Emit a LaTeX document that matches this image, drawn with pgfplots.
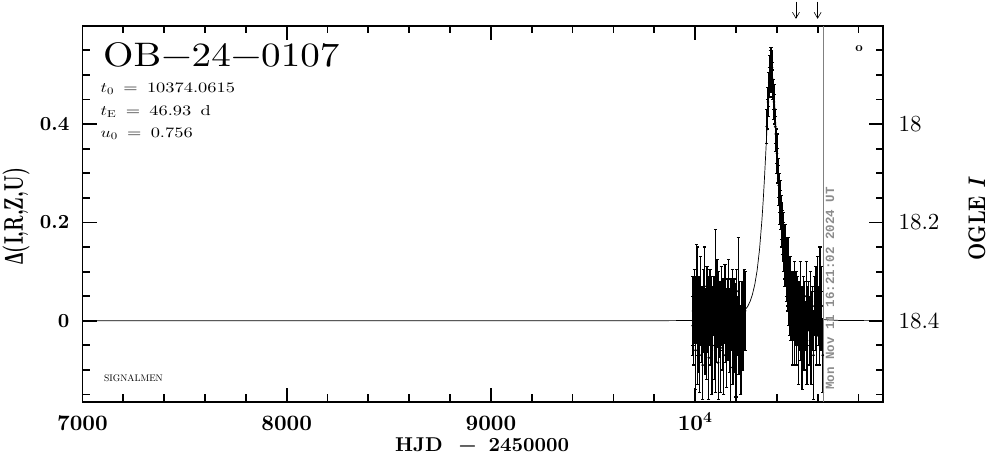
\documentclass[border=0pt]{standalone}
\usepackage{fontspec}
\usepackage{graphicx}
\usepackage{pgfplots}
\usepackage{pgfplotstable}
\pgfplotsset{compat=1.18}
\usetikzlibrary{arrows.meta}
\setmainfont{lmroman10-regular}[Extension=.otf, BoldFont=lmroman10-bold,
  ItalicFont=lmroman10-italic, BoldItalicFont=lmroman10-bolditalic]
\newfontfamily\datefont{Liberation Mono}
\newfontfamily\grkfont{Liberation Serif}

% OGLE season 2023 (baseline)
\pgfplotstableread{
t d e
9988 -0.010 0.060
9990 0.020 0.070
9993 -0.035 0.055
9996 0.045 0.060
9999 0.005 0.050
10002 -0.060 0.080
10005 0.030 0.060
10008 0.055 0.100
10010 -0.020 0.050
10013 0.010 0.140
10016 -0.045 0.060
10019 0.035 0.055
10022 -0.070 0.075
10025 0.000 0.050
10028 0.060 0.070
10031 -0.025 0.060
10034 0.020 0.050
10037 -0.090 0.070
10040 0.040 0.065
10043 -0.010 0.055
10046 0.070 0.080
10049 -0.050 0.060
10052 0.015 0.050
10055 -0.030 0.090
10058 0.050 0.060
10061 -0.015 0.050
10064 0.025 0.065
10067 -0.075 0.085
10070 0.005 0.055
10073 0.045 0.060
10076 -0.040 0.050
10079 0.020 0.070
10082 -0.060 0.090
10085 0.010 0.060
10092 0.030 0.060
10095 -0.050 0.070
10098 0.015 0.055
10101 0.020 0.165
10104 -0.025 0.060
10107 0.060 0.065
10110 -0.005 0.050
10113 -0.085 0.075
10116 0.040 0.060
10119 -0.020 0.055
10122 0.010 0.070
10125 -0.055 0.090
10128 0.050 0.060
10131 0.000 0.050
10134 -0.035 0.065
10137 0.030 0.055
10140 -0.070 0.080
10143 0.015 0.060
10146 0.045 0.070
10149 -0.030 0.055
10152 0.005 0.060
10155 -0.060 0.075
10158 0.035 0.050
10161 -0.015 0.065
10164 0.055 0.070
10167 -0.045 0.060
10170 0.010 0.055
10173 -0.095 0.070
10176 0.025 0.060
10179 -0.010 0.050
10182 0.040 0.065
10185 -0.050 0.080
10188 0.005 0.060
10191 0.030 0.055
10194 -0.035 0.070
10197 0.015 0.060
10200 -0.070 0.085
10204 0.040 0.065
10208 -0.010 0.060
10211 0.060 0.110
10215 -0.040 0.070
10219 0.020 0.060
10224 -0.060 0.090
10229 0.010 0.070
10234 -0.020 0.080
10240 0.030 0.075
10245 0.020 0.080
}\seasonA

% OGLE season 2024 (event + tail)
\pgfplotstableread{
t d e
10351 0.395 0.035
10354 0.420 0.030
10357 0.445 0.030
10360 0.470 0.035
10363 0.485 0.030
10366 0.505 0.035
10368 0.520 0.030
10370 0.500 0.035
10372 0.525 0.030
10374 0.495 0.030
10376 0.515 0.035
10378 0.480 0.030
10380 0.490 0.035
10383 0.460 0.030
10386 0.445 0.035
10389 0.430 0.030
10392 0.395 0.035
10395 0.380 0.035
10398 0.355 0.035
10401 0.340 0.040
10404 0.315 0.035
10407 0.290 0.040
10410 0.275 0.040
10413 0.260 0.040
10416 0.240 0.045
10419 0.225 0.040
10422 0.210 0.045
10425 0.195 0.045
10428 0.180 0.045
10431 0.170 0.050
10434 0.150 0.050
10437 0.140 0.055
10440 0.120 0.050
10443 0.135 0.060
10446 0.090 0.050
10449 0.110 0.060
10452 0.070 0.050
10455 0.100 0.070
10458 0.050 0.060
10461 0.080 0.050
10464 0.030 0.060
10467 0.060 0.070
10470 0.010 0.050
10473 0.040 0.060
10476 -0.020 0.070
10479 0.050 0.050
10482 0.020 0.060
10485 -0.010 0.080
10488 0.060 0.060
10491 0.000 0.050
10494 0.030 0.070
10497 -0.030 0.060
10500 0.040 0.050
10503 0.010 0.060
10506 -0.050 0.080
10509 0.030 0.050
10512 0.000 0.060
10515 0.050 0.070
10518 -0.020 0.060
10521 0.020 0.050
10524 -0.060 0.080
10527 0.010 0.060
10530 0.040 0.050
10533 -0.030 0.070
10536 0.020 0.060
10540 -0.010 0.050
10544 0.050 0.070
10548 -0.040 0.090
10552 0.010 0.060
10556 0.030 0.050
10560 -0.020 0.070
10564 0.040 0.060
10568 -0.050 0.080
10572 0.000 0.060
10576 0.020 0.050
10580 -0.070 0.090
10584 0.030 0.060
10588 -0.010 0.050
10592 0.040 0.070
10596 -0.030 0.060
10600 0.050 0.080
10604 0.010 0.060
10608 -0.020 0.070
10612 0.060 0.090
10616 0.000 0.060
10620 0.030 0.080
10625 -0.070 0.075
}\seasonB

\begin{document}
\begin{tikzpicture}
\path[use as bounding box] (0,0) rectangle (986pt,459pt);

\begin{axis}[
  at={(82.5pt,57.3pt)}, anchor=south west,
  scale only axis, width=800.8pt, height=376pt,
  xmin=7000, xmax=10921.6, ymin=-0.1645, ymax=0.6,
  xtick={7000,8000,9000,10000},
  xticklabels={7000,8000,9000,{10\textsuperscript{4}}},
  minor xtick={7200,7400,7600,7800,8200,8400,8600,8800,9200,9400,9600,9800,10200,10400,10600,10800},
  ytick={0,0.2,0.4}, yticklabels={0,0.2,0.4},
  minor ytick={-0.15,-0.1,-0.05,0.05,0.1,0.15,0.25,0.3,0.35,0.45,0.5,0.55},
  ytick pos=left,
  major tick length=14pt, minor tick length=7.5pt,
  axis line style={line width=1.8pt},
  tick style={black, line width=1.8pt},
  xticklabel style={font=\bfseries\fontsize{22}{22}\selectfont, anchor=base, yshift=-28.3pt},
  yticklabel style={font=\bfseries\fontsize{20}{20}\selectfont, anchor=east, inner sep=0pt, xshift=-13pt},
  clip=false,
]
% model light curve (t0=10374.0615, tE=46.93, u0=0.756)
\addplot[black, line width=0.7pt, no marks] coordinates {
(7000,0) (9800,0.0001) (10045.6,0.0008) (10139.4,0.0029) (10186.3,0.0063)
(10209.8,0.0100) (10233.3,0.0165) (10256.7,0.0287) (10268.5,0.0386)
(10280.2,0.0528) (10291.9,0.0731) (10303.7,0.1025) (10315.4,0.1448)
(10327.1,0.2043) (10333.0,0.2416) (10338.9,0.2839) (10344.7,0.3304)
(10350.6,0.3789) (10356.5,0.4260) (10362.3,0.4666) (10368.2,0.4942)
(10374.1,0.5040) (10379.9,0.4942) (10385.8,0.4666) (10391.7,0.4260)
(10397.5,0.3789) (10403.4,0.3304) (10409.3,0.2839) (10415.1,0.2416)
(10421.0,0.2043) (10432.7,0.1448) (10444.5,0.1025) (10456.2,0.0731)
(10467.9,0.0528) (10479.7,0.0386) (10491.4,0.0287) (10514.9,0.0165)
(10538.3,0.0100) (10561.8,0.0063) (10608.7,0.0029) (10702.6,0.0008)
(10921.6,0.0001)};
\addplot[black, only marks, mark=*, mark size=1.1pt,
  error bars/.cd, y dir=both, y explicit,
  error bar style={line width=1.3pt, black},
  error mark options={rotate=90, black, line width=1.2pt, mark size=1.6pt}]
  table[x=t, y=d, y error=e] {\seasonA};
\addplot[black, only marks, mark=*, mark size=1.1pt,
  error bars/.cd, y dir=both, y explicit,
  error bar style={line width=1.3pt, black},
  error mark options={rotate=90, black, line width=1.2pt, mark size=1.6pt}]
  table[x=t, y=d, y error=e] {\seasonB};
% time of last update and marked epochs
\draw[black!50, line width=0.8pt] (axis cs:10627,-0.1645) -- (axis cs:10627,0.6);
\draw[-{Straight Barb[length=6pt,width=7pt]}, line width=0.6pt] (axis cs:10494,0.649) -- (axis cs:10494,0.614);
\draw[-{Straight Barb[length=6pt,width=7pt]}, line width=0.6pt] (axis cs:10600,0.649) -- (axis cs:10600,0.614);
\end{axis}

\begin{axis}[
  at={(82.5pt,57.3pt)}, anchor=south west,
  scale only axis, width=800.8pt, height=376pt,
  xmin=7000, xmax=10921.6, ymin=17.8, ymax=18.5645, y dir=reverse,
  hide x axis,
  ytick={18,18.2,18.4}, yticklabels={18,18.2,18.4},
  minor ytick={17.85,17.9,17.95,18.05,18.1,18.15,18.25,18.3,18.35,18.45,18.5,18.55},
  ytick pos=right, yticklabel pos=right,
  major tick length=14pt, minor tick length=7.5pt,
  axis line style={line width=1.8pt},
  tick style={black, line width=1.8pt},
  yticklabel style={font=\fontsize{23}{23}\selectfont, anchor=west, inner sep=0pt, xshift=15pt},
]
\end{axis}

% texts
\node[anchor=base west, inner sep=0pt, font=\fontsize{34}{34}\selectfont] at (103pt,392.3pt)
  {\scalebox{1.15}[1]{OB−24−0107}};
\node[anchor=base west, inner sep=0pt, font=\fontsize{14.4}{16}\selectfont] at (100.5pt,366.3pt)
  {\scalebox{1.28}[1]{$t_0$\hspace{0.5em}=\hspace{0.5em}10374.0615}};
\node[anchor=base west, inner sep=0pt, font=\fontsize{14.4}{16}\selectfont] at (100.5pt,344pt)
  {\scalebox{1.28}[1]{$t_{\mathrm{E}}$\hspace{0.5em}=\hspace{0.5em}46.93\hspace{0.5em}d}};
\node[anchor=base west, inner sep=0pt, font=\fontsize{14.4}{16}\selectfont] at (100.5pt,321.7pt)
  {\scalebox{1.28}[1]{$u_0$\hspace{0.5em}=\hspace{0.5em}0.756}};
\node[anchor=base west, inner sep=0pt, font=\fontsize{9.5}{10}\selectfont] at (104pt,77.3pt) {SIGNALMEN};
\node[inner sep=0pt, font=\bfseries\fontsize{13}{13}\selectfont] at (859pt,410.2pt) {o};
\node[rotate=90, anchor=base west, inner sep=0pt, text=black!45, font=\datefont\bfseries\fontsize{12.5}{12.5}\selectfont]
  at (834pt,69pt) {Mon Nov 11 16:21:02 2024 UT};
\node[anchor=base west, inner sep=0pt, font=\bfseries\fontsize{20}{20}\selectfont] at (395pt,7.3pt)
  {HJD\hspace{16pt}−\hspace{12pt}2450000};
\node[rotate=90, anchor=base, inner sep=0pt, font=\bfseries\fontsize{20}{20}\selectfont] at (23pt,243pt)
  {\scalebox{0.9}[1.35]{{\grkfont Δ}(I,R,Z,U)}};
\node[rotate=90, anchor=base, inner sep=0pt, font=\bfseries\fontsize{20}{20}\selectfont] at (985pt,240.5pt)
  {\scalebox{1}[1.2]{OGLE \textit{I}}};
\end{tikzpicture}
\end{document}
